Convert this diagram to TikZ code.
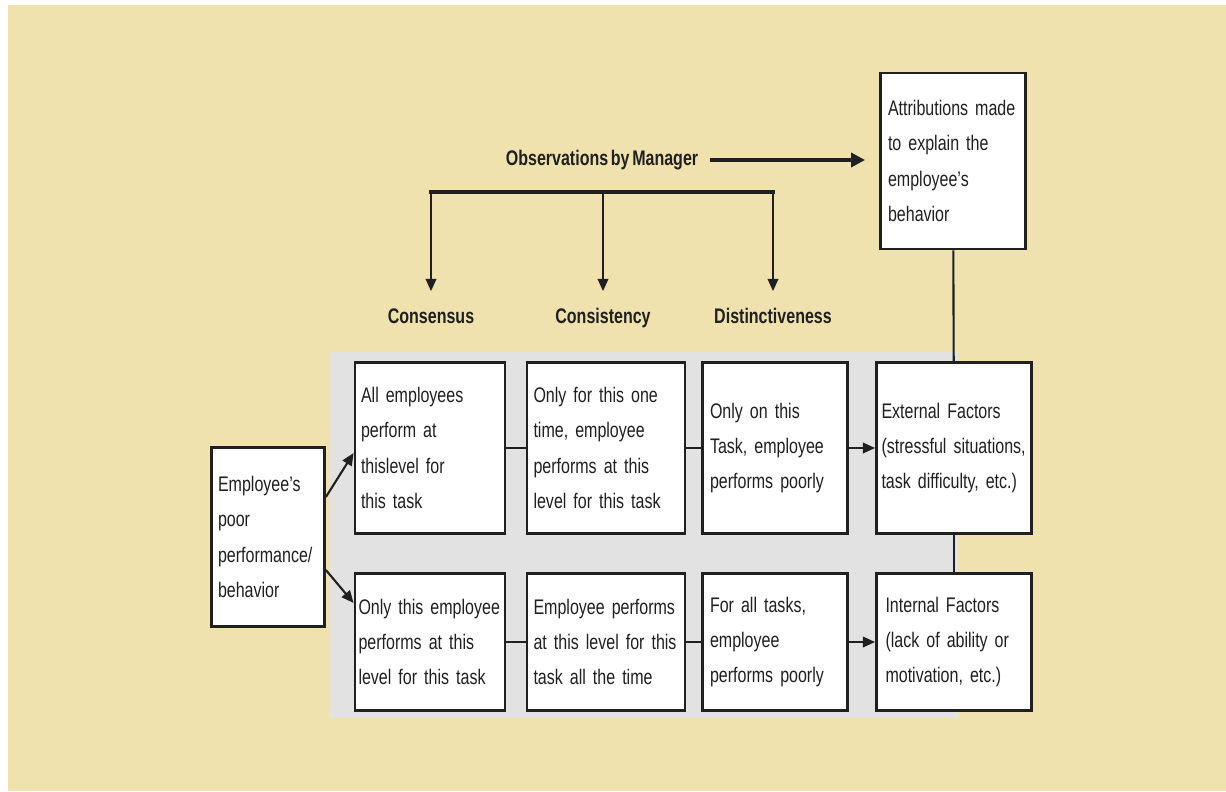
\documentclass[tikz,border=0pt]{standalone}
\usepackage{fontspec}
\setmainfont{Liberation Sans}[FakeStretch=0.76, WordSpace=0.6]
\usepackage{tikz}
\usetikzlibrary{arrows.meta, positioning, calc}

\definecolor{paper}{RGB}{239,226,174}
\definecolor{band}{RGB}{226,226,226}
\definecolor{ink}{RGB}{32,32,32}

\begin{document}
\begin{tikzpicture}[x=0.02cm, y=-0.02cm,
    font=\fontsize{12pt}{20pt}\selectfont,
    box/.style={draw=ink, line width=1.6pt, fill=white, align=left, text=ink,
        inner xsep=0pt, inner ysep=2pt,
        execute at begin node={\hyphenpenalty=10000\relax}},
    head/.style={font=\fontsize{12pt}{14pt}\selectfont\bfseries, text=ink,
        text height=9pt, text depth=2.5pt},
    link/.style={draw=ink, line width=1.2pt},
    arrow/.style={link, -{Triangle[length=7pt, width=6pt]}},
    down/.style={arrow, shorten >=6pt}]

    % Page and background
    \useasboundingbox (0,0) rectangle (1226,791);
    \fill[white] (0,0) rectangle (1226,791);
    \fill[paper] (8,5) rectangle (1226,791);
    \fill[band] (330,352) rectangle (958,718);

    % Observations and the three criteria
    \node[head] (obs) at (602,160) {Observations by Manager};
    \node[head] (cons) at (431,318) {Consensus};
    \node[head] (consi) at (603,318) {Consistency};
    \node[head] (dist) at (773,318) {Distinctiveness};

    % Attribution box
    \node[box, minimum width=2.9cm, text width=2.6cm, minimum height=3.52cm] (attr) at (953,161)
        {Attributions made\\ to explain the\\ employee's\\ behavior};

    % Starting behavior
    \node[box, minimum width=2.26cm, text width=2.0cm, minimum height=3.58cm] (emp) at (268,537)
        {Employee's\\ poor\\ performance/\\ behavior};

    % Upper row: external attribution
    \node[box, minimum width=3cm, text width=2.76cm, minimum height=3.42cm] (u1) at (430,448)
        {All employees\\ perform at\\ thislevel for\\ this task};
    \node[box, minimum width=3.16cm, text width=2.9cm, minimum height=3.42cm] (u2) at (606,448)
        {Only for this one\\ time, employee\\ performs at this\\ level for this task};
    \node[box, minimum width=2.9cm, text width=2.6cm, minimum height=3.42cm] (u3) at (775,448)
        {Only on this\\ Task, employee\\ performs poorly};
    \node[box, minimum width=3.1cm, text width=2.9cm, minimum height=3.42cm] (ext) at (954,448)
        {External Factors\\ (stressful situations,\\ task difficulty, etc.)};

    % Lower row: internal attribution
    \node[box, minimum width=3cm, text width=2.86cm, minimum height=2.74cm] (l1) at (430,642)
        {Only this employee\\ performs at this\\ level for this task};
    \node[box, minimum width=3.16cm, text width=2.9cm, minimum height=2.74cm] (l2) at (606,642)
        {Employee performs\\ at this level for this\\ task all the time};
    \node[box, minimum width=2.9cm, text width=2.6cm, minimum height=2.74cm] (l3) at (775,642)
        {For all tasks,\\ employee\\ performs poorly};
    \node[box, minimum width=3.1cm, text width=2.74cm, minimum height=2.74cm] (int) at (954,642)
        {Internal Factors\\ (lack of ability or\\ motivation, etc.)};

    % Manager's observations
    \draw[link, line width=2.8pt, -{Triangle[length=8pt, width=8pt]}, shorten <=3pt, shorten >=8pt]
        (obs.east) -- (obs.east -| attr.west);
    \coordinate (bar) at (0,192);
    \draw[link, line width=2pt, line cap=rect] (cons.north |- bar) -- (dist.north |- bar);
    \foreach \n in {cons, consi, dist}
        \draw[down] (\n.north |- bar) -- (\n.north);

    % Connectors
    \draw[arrow] ($(emp.east)+(0,-40)$) -- ($(u1.west)+(0,5)$);
    \draw[arrow] ($(emp.east)+(0,33)$) -- ($(l1.west)+(0,-39)$);
    \draw[link] (u1) -- (u2);
    \draw[link] (u2) -- (u3);
    \draw[arrow] (u3) -- (ext);
    \draw[link] (l1) -- (l2);
    \draw[link] (l2) -- (l3);
    \draw[arrow] (l3) -- (int);
    \draw[link] (attr) -- (ext);
    \draw[link] (ext) -- (int);
\end{tikzpicture}
\end{document}
